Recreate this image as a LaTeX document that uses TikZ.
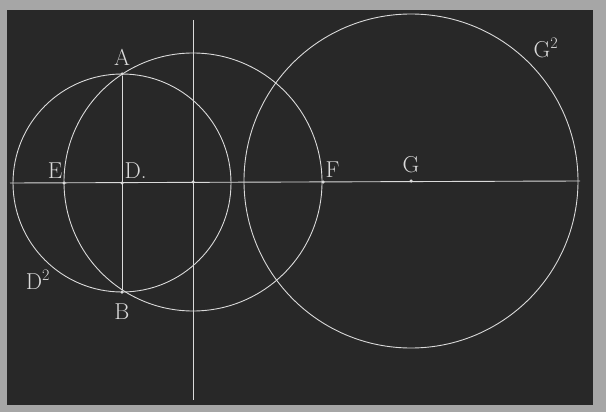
\documentclass[tikz,border=0pt]{standalone}
\usetikzlibrary{positioning}
\definecolor{board}{HTML}{282828}
\definecolor{chalk}{HTML}{DADADA}
\definecolor{frame}{HTML}{A6A6A6}

\begin{document}
\begin{tikzpicture}[
    x=1pt, y=-1pt,
    node distance=4pt,
    chalkline/.style={draw=chalk, line width=0.9pt},
    dot/.style={circle, fill=chalk, inner sep=0pt, minimum size=3.5pt},
    lbl/.style={text=chalk, font=\fontsize{23}{23}\selectfont, inner sep=1pt}
]
\useasboundingbox (0,0) rectangle (606,412);
\fill[frame] (0,0) rectangle (606,412);
\fill[board] (7,10) rectangle (593,405);

% points of the construction
\coordinate (hl) at (10,183);
\coordinate (hr) at (580,181);
\coordinate (vt) at (193,20);
\coordinate (vb) at (193,400);
\node[dot] (O) at (193,182) {};
\node[dot] (D) at (122,183) {};
\node[dot] (A) at (122,74) {};
\node[dot] (B) at (122,292) {};
\node[dot] (E) at (64,183) {};
\node[dot] (F) at (323,182) {};
\node[dot] (G) at (411,181) {};

% lines
\draw[chalkline] (hl) -- (hr);
\draw[chalkline] (vt) -- (vb);
\draw[chalkline] (A) -- (B);

% circles
\draw[chalkline] (D) circle (109);
\draw[chalkline] (O) circle (129);
\draw[chalkline] (G) circle (167);

% labels
\node[lbl, above=5pt of A] (la) {A};
\node[lbl, below=9pt of B] (lb) {B};
\node[lbl, above left=2pt and -1pt of E] (le) {E};
\node[lbl, above right=2pt and 0pt of D] (ld) {D.};
\node[lbl, above right=2pt and 0pt of F] (lf) {F};
\node[lbl, above=5pt of G] (lg) {G};
\node[lbl] (ld2) at (38,280) {D\textsuperscript{2}};
\node[lbl] (lg2) at (546,48) {G\textsuperscript{2}};
\end{tikzpicture}
\end{document}
